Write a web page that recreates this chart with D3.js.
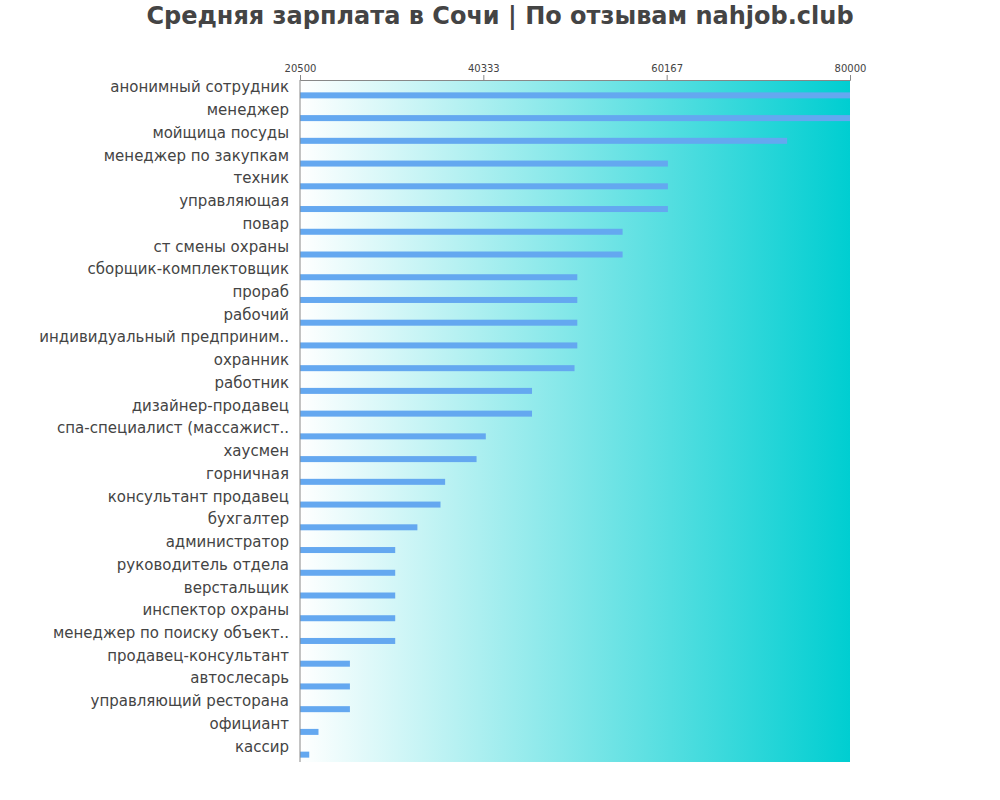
<!DOCTYPE html>
<html><head><meta charset="utf-8">
<script src="https://cdn.jsdelivr.net/npm/d3@7"></script>
<style>body{margin:0;background:#fff}</style></head>
<body><svg id="c" width="1000" height="800"></svg>
<script>
const categories = ["анонимный сотрудник","менеджер","мойщица посуды","менеджер по закупкам","техник","управляющая","повар","ст смены охраны","сборщик-комплектовщик","прораб","рабочий","индивидуальный предприним..","охранник","работник","дизайнер-продавец","спа-специалист (массажист..","хаусмен","горничная","консультант продавец","бухгалтер","администратор","руководитель отдела","верстальщик","инспектор охраны","менеджер по поиску объект..","продавец-консультант","автослесарь","управляющий ресторана","официант","кассир"];
const values = [80000,80000,73200,60300,60300,60300,55400,55400,50500,50500,50500,50500,50200,45600,45600,40600,39600,36200,35700,33200,30800,30800,30800,30800,30800,25900,25900,25900,22500,21500];
const tickValues = [20500,40333,60167,80000];

const svg = d3.select("#c");
const L=300,R=850,T=80,B=762;
const x = d3.scaleLinear().domain([20500,80000]).range([L,R]);
const y = d3.scaleBand().domain(categories).range([T,B]);

const defs = svg.append("defs");
const g = defs.append("linearGradient").attr("id","bg");
g.append("stop").attr("offset","0%").attr("stop-color","#ffffff");
g.append("stop").attr("offset","100%").attr("stop-color","#00ced1");
svg.append("rect").attr("x",L).attr("y",T).attr("width",R-L).attr("height",B-T).attr("fill","url(#bg)");

svg.append("text").attr("x",500).attr("y",24).attr("text-anchor","middle")
  .attr("font-family","DejaVu Sans").attr("font-weight","bold").attr("font-size",24).attr("fill","#444")
  .text("Средняя зарплата в Сочи | По отзывам nahjob.club");

svg.selectAll(".bar").data(values).enter().append("rect")
  .attr("x",L).attr("y",(d,i)=>y(categories[i])+y.bandwidth()/2+1)
  .attr("width",d=>x(d)-L).attr("height",6).attr("fill","#64a8f0");

svg.selectAll(".lab").data(categories).enter().append("text")
  .attr("x",L-11).attr("y",d=>y(d)+y.bandwidth()/2+1)
  .attr("text-anchor","end").attr("font-family","DejaVu Sans").attr("font-size",15).attr("fill","#444")
  .text(d=>d);

const ax = svg.append("g").attr("transform",`translate(0,${T})`)
  .call(d3.axisTop(x).tickValues(tickValues).tickFormat(d3.format("d")).tickSizeOuter(0).tickSize(5));
ax.selectAll("text").attr("font-family","DejaVu Sans").attr("font-size",10).attr("fill","#444");
ax.selectAll("line,path").attr("stroke","#888");
svg.append("line").attr("x1",L).attr("x2",L).attr("y1",T).attr("y2",B).attr("stroke","#888");
</script></body></html>
